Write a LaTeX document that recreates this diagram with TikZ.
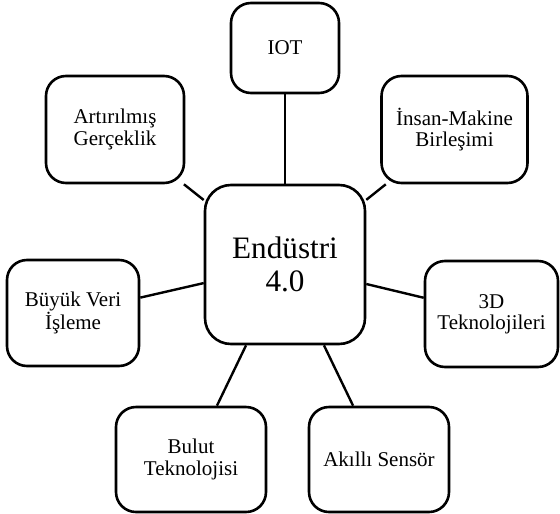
\documentclass[tikz,border=0pt]{standalone}
\usepackage{fontspec}
\setmainfont{Liberation Serif}
\usepackage{tikz}

\begin{document}
\begin{tikzpicture}[x=0.5pt,y=-0.5pt,
box/.style={draw,rectangle,rounded corners=10pt,line width=1.3pt,inner sep=0pt,
    align=center,font=\fontsize{10.5}{10.6}\selectfont},
hub/.style={box,rounded corners=13pt,font=\fontsize{15.6}{16.4}\selectfont},
link/.style={line width=1.2pt}]
\useasboundingbox (0,0) rectangle (560,513);

\node (hub) [hub,minimum width=80pt,minimum height=79.5pt] at (285,264.5) {Endüstri\\4.0};

\node (iot) [box,minimum width=54pt,minimum height=45pt] at (285,48) {IOT};
\node (ar) [box,minimum width=69pt,minimum height=53.5pt] at (115,129.5) {Artırılmış\\Gerçeklik};
\node (hm) [box,minimum width=73pt,minimum height=53.5pt] at (454.5,129.5) {İnsan-Makine\\Birleşimi};
\node (bigdata) [box,minimum width=66pt,minimum height=53pt] at (73,313) {Büyük Veri\\İşleme};
\node (tdp) [box,minimum width=66.5pt,minimum height=53pt] at (491.5,314) {3D\\Teknolojileri};
\node (cloud) [box,minimum width=75pt,minimum height=52.5pt] at (191,459.5) {Bulut\\Teknolojisi};
\node (sensor) [box,minimum width=70pt,minimum height=52.5pt] at (379,459.5) {Akıllı Sensör};

\foreach \n in {iot,ar,hm,bigdata,tdp,cloud,sensor}
    \draw [link] (hub) -- (\n);
\end{tikzpicture}
\end{document}
